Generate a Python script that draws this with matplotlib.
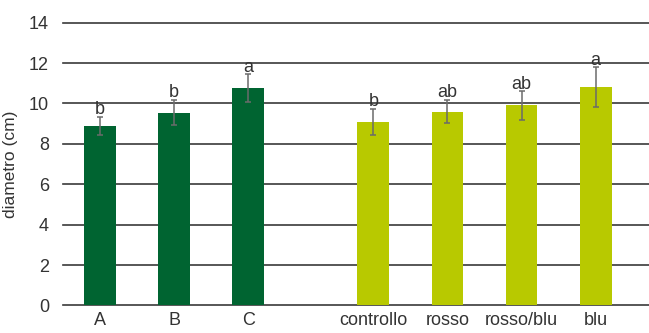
import matplotlib.pyplot as plt

# treatment groups and means with standard errors
categories = ['A', 'B', 'C', 'controllo', 'rosso', 'rosso/blu', 'blu']
diametro = [8.9, 9.55, 10.75, 9.1, 9.6, 9.9, 10.8]
errore = [0.45, 0.63, 0.7, 0.65, 0.58, 0.7, 1.0]
lettere = ['b', 'b', 'a', 'b', 'ab', 'ab', 'a']
gruppo = [0, 0, 0, 1, 1, 1, 1]

colori = ['#006431', '#b8c900']

plt.rcParams['font.family'] = ['Liberation Sans', 'DejaVu Sans']

# first block of three, then a gap before the second block
pos = [i if g == 0 else i + 0.69 for i, g in enumerate(gruppo)]

fig = plt.figure(figsize=(6.49, 3.33), dpi=100)
ax = fig.add_axes([0.097, 0.0826, 0.903, 0.8494])

ax.yaxis.grid(True, color='#3a3a3a', linewidth=1.2)
ax.set_axisbelow(True)
ax.bar(pos, diametro, width=0.43, color=[colori[g] for g in gruppo], zorder=2)
ax.errorbar(pos, diametro, yerr=errore, fmt='none', ecolor='#6b6b6b',
            elinewidth=1.1, capsize=2.5, capthick=1.1, zorder=3)

for x, v, e, t in zip(pos, diametro, errore, lettere):
    ax.text(x, v + e + 0.12, t, ha='center', va='baseline', fontsize=13,
            color='#333333', zorder=4)

ax.set_ylim(0, 14)
ax.set_xlim(-0.5, pos[-1] + 0.72)
ax.set_yticks(range(0, 15, 2))
ax.set_xticks(pos)
ax.set_xticklabels(categories)
ax.tick_params(length=0, labelsize=13, colors='#333333')
ax.tick_params(axis='y', pad=10)
ax.tick_params(axis='x', pad=5)
ax.set_ylabel('diametro (cm)', fontsize=12.5, color='#333333', labelpad=8)
for s in ax.spines.values():
    s.set_visible(False)
for gl in ax.get_ygridlines():
    gl.set_clip_on(False)

fig.savefig('out.png', dpi=100)
